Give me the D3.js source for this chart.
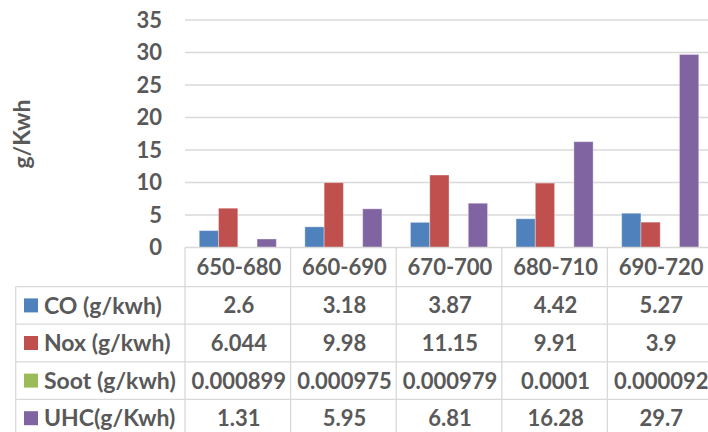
<!DOCTYPE html>
<html>
<head>
<meta charset="utf-8">
<script src="https://cdn.jsdelivr.net/npm/d3@7"></script>
<style>
  body { margin: 0; background: #fff; }
  svg { display: block; font-family: Lato, "Open Sans", sans-serif; font-weight: bold; }
</style>
</head>
<body>
<div id="chart"></div>
<script>
// data
var categories = ["650-680", "660-690", "670-700", "680-710", "690-720"];
var seriesNames = ["CO (g/kwh)", "Nox (g/kwh)", "Soot (g/kwh)", "UHC(g/Kwh)"];
var seriesColors = ["#4F81BD", "#C0504D", "#9BBB59", "#8064A2"];
var coValues = [2.6, 3.18, 3.87, 4.42, 5.27];
var noxValues = [6.044, 9.98, 11.15, 9.91, 3.9];
var sootValues = [0.000899, 0.000975, 0.000979, 0.0001, 0.000092];
var uhcValues = [1.31, 5.95, 6.81, 16.28, 29.7];
var tableLabels = [
  ["2.6", "3.18", "3.87", "4.42", "5.27"],
  ["6.044", "9.98", "11.15", "9.91", "3.9"],
  ["0.000899", "0.000975", "0.000979", "0.0001", "0.000092"],
  ["1.31", "5.95", "6.81", "16.28", "29.7"]
];
var yTicks = [0, 5, 10, 15, 20, 25, 30, 35];

var allSeries = [coValues, noxValues, sootValues, uhcValues];

var width = 708, height = 432;
var textColor = "#595959", lineColor = "#d9d9d9";
var fontSize = 22;

var plotLeft = 185, colWidth = 105.6;
var x = d3.scaleBand()
  .domain(categories)
  .range([plotLeft, plotLeft + colWidth * categories.length])
  .padding(0);
var xs = d3.scaleBand()
  .domain(d3.range(seriesNames.length))
  .range([0, x.bandwidth()])
  .paddingInner(0)
  .paddingOuter(0.74);
var y = d3.scaleLinear().domain([0, 35]).range([247.5, 20]);

var svg = d3.select("#chart").append("svg")
  .attr("width", width)
  .attr("height", height);

// gridlines
svg.append("g").selectAll("line")
  .data(yTicks.slice(1))
  .enter().append("line")
  .attr("x1", plotLeft).attr("x2", width)
  .attr("y1", function(d) { return y(d); })
  .attr("y2", function(d) { return y(d); })
  .attr("stroke", lineColor).attr("stroke-width", 1.3);

// y tick labels
svg.append("g").selectAll("text")
  .data(yTicks)
  .enter().append("text")
  .attr("x", 162)
  .attr("y", function(d) { return y(d); })
  .attr("dy", "0.36em")
  .attr("text-anchor", "end")
  .attr("font-size", fontSize)
  .attr("fill", textColor)
  .text(function(d) { return d; });

// axis title
svg.append("text")
  .attr("transform", "translate(30,134) rotate(-90)")
  .attr("text-anchor", "middle")
  .attr("font-size", 23)
  .attr("fill", textColor)
  .text("g/Kwh");

// bars
allSeries.forEach(function(values, s) {
  svg.append("g").selectAll("rect")
    .data(values)
    .enter().append("rect")
    .attr("x", function(d, i) { return x(categories[i]) + xs(s); })
    .attr("width", xs.bandwidth())
    .attr("y", function(d) { return y(d); })
    .attr("height", function(d) { return y(0) - y(d); })
    .attr("fill", seriesColors[s])
    .attr("stroke", "#ffffff")
    .attr("stroke-opacity", 0.35)
    .attr("stroke-width", 1);
});

// data table
var headerTop = y(0), headerBottom = 286.6, rowH = 37.6;
var tableLeft = 15.7;
var rowTop = function(r) { return headerBottom + r * rowH; };
var tableBottom = rowTop(seriesNames.length);
var grid = svg.append("g").attr("stroke", lineColor).attr("stroke-width", 1.3);

// horizontal lines
grid.append("line")
  .attr("x1", plotLeft).attr("x2", width)
  .attr("y1", headerTop).attr("y2", headerTop);
d3.range(seriesNames.length + 1).forEach(function(r) {
  grid.append("line")
    .attr("x1", tableLeft).attr("x2", width)
    .attr("y1", rowTop(r)).attr("y2", rowTop(r));
});
// vertical lines
grid.append("line")
  .attr("x1", tableLeft).attr("x2", tableLeft)
  .attr("y1", headerBottom).attr("y2", tableBottom);
categories.forEach(function(c) {
  grid.append("line")
    .attr("x1", x(c)).attr("x2", x(c))
    .attr("y1", headerTop).attr("y2", tableBottom);
});

// header labels
svg.append("g").selectAll("text")
  .data(categories)
  .enter().append("text")
  .attr("x", function(d) { return x(d) + x.bandwidth() / 2 + 1; })
  .attr("y", (headerTop + headerBottom) / 2)
  .attr("dy", "0.36em")
  .attr("text-anchor", "middle")
  .attr("font-size", fontSize)
  .attr("fill", textColor)
  .text(function(d) { return d; });

// legend column + values
seriesNames.forEach(function(name, r) {
  var cy = rowTop(r) + rowH / 2;
  svg.append("rect")
    .attr("x", 24).attr("y", cy - 7)
    .attr("width", 14).attr("height", 14)
    .attr("fill", seriesColors[r]);
  svg.append("text")
    .attr("x", 44).attr("y", cy)
    .attr("dy", "0.36em")
    .attr("font-size", 23)
    .attr("fill", textColor)
    .text(name);
  svg.append("g").selectAll("text")
    .data(tableLabels[r])
    .enter().append("text")
    .attr("x", function(d, i) { return x(categories[i]) + x.bandwidth() / 2 + 1; })
    .attr("y", cy)
    .attr("dy", "0.36em")
    .attr("text-anchor", "middle")
    .attr("font-size", fontSize)
    .attr("fill", textColor)
    .text(function(d) { return d; });
});
</script>
</body>
</html>
